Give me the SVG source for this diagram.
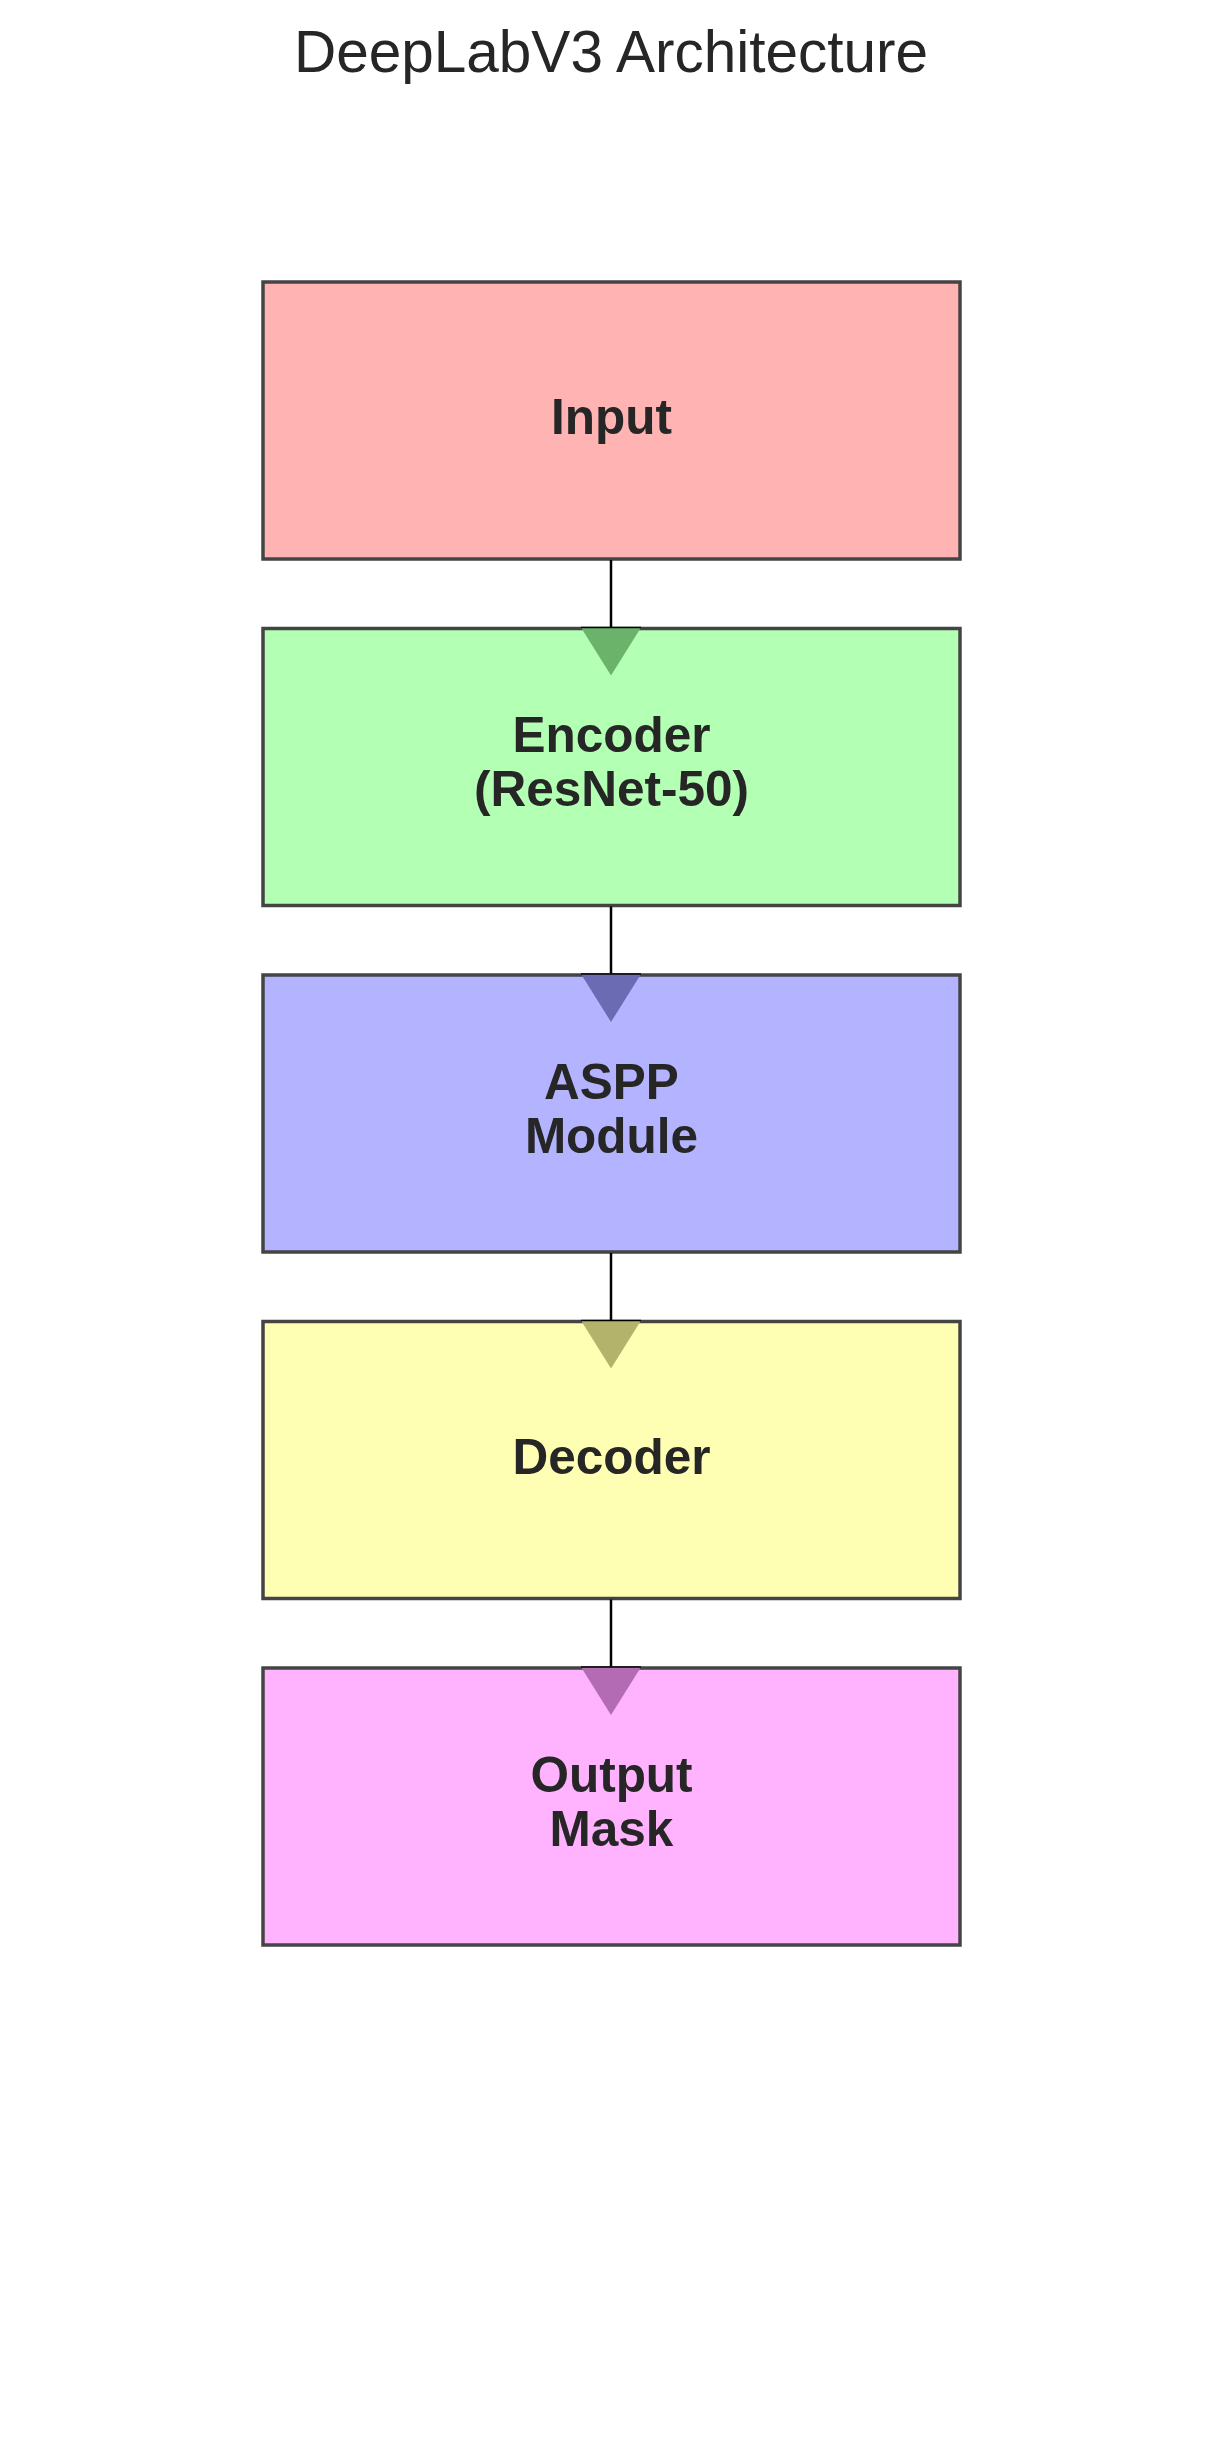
<svg xmlns="http://www.w3.org/2000/svg" width="1222" height="2437" viewBox="0 0 1222 2437">
<style>
.box{stroke:#444;stroke-width:3.5}
.lbl{font-family:"Liberation Sans",Arial,sans-serif;font-weight:bold;font-size:49.5px;fill:#262626;text-anchor:middle}
.title{font-family:"Liberation Sans",Arial,sans-serif;font-size:58.5px;fill:#262626;text-anchor:middle}
.conn{stroke:#000;stroke-width:2.5;fill:none}
.base{stroke:#000;stroke-width:1.5}
</style>
<rect width="1222" height="2437" fill="#fff"/>
<text class="title" x="611" y="72">DeepLabV3 Architecture</text>
<g id="input"><rect class="box" x="263" y="282" width="697" height="277" fill="#ffb3b3"/><text class="lbl" x="611.5" y="434">Input</text></g>
<g id="encoder"><rect class="box" x="263" y="628.5" width="697" height="277" fill="#b3ffb3"/><text class="lbl" x="611.5" y="752">Encoder</text><text class="lbl" x="611.5" y="806">(ResNet-50)</text></g>
<g id="aspp"><rect class="box" x="263" y="975" width="697" height="277" fill="#b3b3ff"/><text class="lbl" x="611.5" y="1098.5">ASPP</text><text class="lbl" x="611.5" y="1152.5">Module</text></g>
<g id="decoder"><rect class="box" x="263" y="1321.5" width="697" height="277" fill="#ffffb3"/><text class="lbl" x="611.5" y="1473.5">Decoder</text></g>
<g id="output"><rect class="box" x="263" y="1668" width="697" height="277" fill="#ffb3ff"/><text class="lbl" x="611.5" y="1791.5">Output</text><text class="lbl" x="611.5" y="1845.5">Mask</text></g>
<g id="connectors">
<line class="conn" x1="611" y1="560" x2="611" y2="627"/>
<polygon points="581,627.5 641,627.5 611,675.5" fill="#6bb36b"/><line class="base" x1="581" y1="627.5" x2="641" y2="627.5"/>
<line class="conn" x1="611" y1="906.5" x2="611" y2="973.5"/>
<polygon points="581,974 641,974 611,1022" fill="#6b6bb3"/><line class="base" x1="581" y1="974" x2="641" y2="974"/>
<line class="conn" x1="611" y1="1253" x2="611" y2="1320"/>
<polygon points="581,1320.5 641,1320.5 611,1368.5" fill="#b3b36b"/><line class="base" x1="581" y1="1320.5" x2="641" y2="1320.5"/>
<line class="conn" x1="611" y1="1599.5" x2="611" y2="1666.5"/>
<polygon points="581,1667 641,1667 611,1715" fill="#b36bb3"/><line class="base" x1="581" y1="1667" x2="641" y2="1667"/>
</g>
</svg>
